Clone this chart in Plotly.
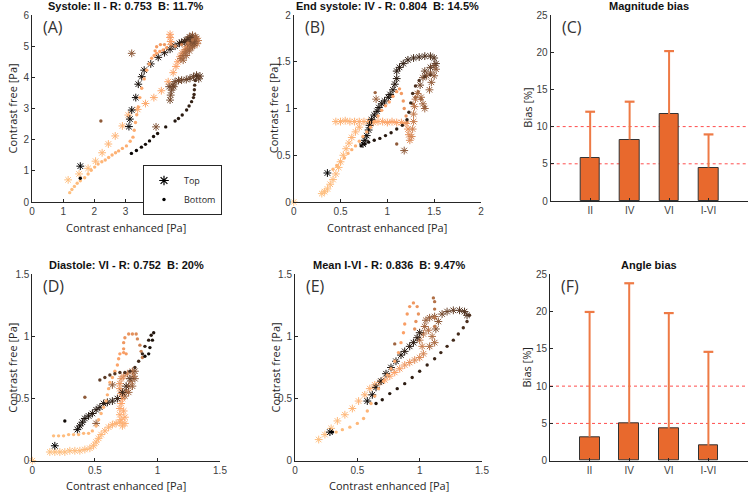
import plotly.graph_objects as go

# ---------------- DATA ----------------
# Panel A (Systole II)
A_top_x = [1.16,1.51,1.80,2.04,2.25,2.45,2.67,2.90,3.09,3.39,3.64,3.91,4.15,4.37,4.53,4.62,4.68,4.75,4.82,4.90,4.96,5.05,5.12,
           4.43,4.43,4.45,4.47,
           5.20,5.28,5.33,5.30,5.20,5.10,5.00,4.92,4.85,4.78,4.85,4.95,5.05,5.15,5.22,5.25,5.15,5.05,4.95,5.00,5.10,5.20,
           3.20,3.98,
           4.43,4.45,4.48,4.52,4.59,4.70,4.80,4.95,5.07,5.18,5.28,5.39,5.35,4.40,4.55,
           5.10,5.00,4.90,4.80,
           4.73,4.59,4.43,4.25,4.05,3.81,3.60,3.52,3.41,3.33,3.20,3.14,3.11,1.55]
A_top_y = [0.71,0.90,1.08,1.31,1.58,1.86,2.12,2.44,2.79,2.97,3.16,3.35,3.57,3.86,4.15,4.35,4.50,4.66,4.78,4.88,4.98,5.05,5.12,
           5.38,5.28,5.15,5.05,
           5.20,5.25,5.18,5.08,5.02,4.95,4.90,4.82,4.70,4.60,4.55,4.70,4.85,5.00,5.15,5.30,5.35,5.30,5.20,5.10,5.15,5.10,
           4.77,2.41,
           3.27,3.43,3.59,3.75,3.86,3.90,3.91,3.93,3.97,4.02,4.07,4.04,3.95,3.70,3.70,
           5.28,5.22,5.15,5.12,
           5.09,5.00,4.90,4.79,4.64,4.43,4.23,4.02,3.78,3.35,2.95,2.66,2.42,1.15]
A_top_t = [0.04,0.05,0.06,0.07,0.08,0.09,0.10,0.10,0.12,0.13,0.14,0.15,0.16,0.17,0.18,0.19,0.20,0.22,0.24,0.26,0.28,0.30,0.32,
           0.20,0.21,0.22,0.23,
           0.34,0.36,0.38,0.40,0.42,0.44,0.45,0.46,0.47,0.48,0.49,0.50,0.50,0.52,0.53,0.54,0.55,0.56,0.57,0.58,0.59,0.60,
           0.55,0.60,
           0.62,0.62,0.63,0.63,0.64,0.65,0.66,0.66,0.67,0.68,0.69,0.70,0.70,0.64,0.65,
           0.70,0.74,0.78,0.82,
           0.85,0.86,0.87,0.88,0.89,0.90,0.91,0.92,0.93,0.94,0.95,0.96,0.97,1.00]

A_bot_x = [1.21,1.28,1.36,1.45,1.55,1.69,1.80,1.90,2.01,2.12,2.24,2.35,2.46,2.57,2.68,2.78,2.90,3.03,3.15,3.24,3.28,3.32,3.36,3.41,3.46,3.52,3.60,3.68,3.76,3.84,3.92,4.00,4.10,4.21,4.32,
           3.95,4.00,4.12,4.25,
           4.60,4.80,5.00,5.15,5.25,
           2.21,
           5.28,5.24,5.22,5.21,5.20,5.18,5.12,5.04,4.96,4.82,4.70,4.59,4.29,4.03,3.90,3.77,3.64,3.51,3.35,3.19,1.55]
A_bot_y = [0.30,0.40,0.50,0.60,0.68,0.78,0.90,1.02,1.12,1.22,1.29,1.35,1.43,1.51,1.58,1.64,1.72,1.80,1.95,2.08,2.30,2.55,2.80,3.05,3.35,3.65,3.95,4.23,4.43,4.61,4.70,4.77,4.83,4.88,4.95,
           4.85,4.98,5.05,5.05,
           5.00,5.05,5.10,5.20,5.28,
           2.60,
           4.04,3.90,3.75,3.60,3.45,3.35,3.22,3.08,2.95,2.79,2.68,2.60,2.41,2.20,2.10,1.96,1.85,1.76,1.65,1.56,0.76]
A_bot_t = [0.04,0.05,0.05,0.06,0.06,0.07,0.07,0.08,0.08,0.09,0.09,0.10,0.10,0.11,0.11,0.12,0.12,0.13,0.13,0.14,0.14,0.15,0.15,0.16,0.16,0.17,0.17,0.17,0.18,0.18,0.18,0.19,0.19,0.20,0.21,
           0.22,0.22,0.23,0.24,
           0.30,0.35,0.40,0.45,0.50,
           0.55,
           0.74,0.76,0.78,0.80,0.81,0.82,0.84,0.85,0.86,0.87,0.88,0.89,0.90,0.91,0.92,0.93,0.94,0.95,0.97,0.98,1.00]

# Panel B (End systole IV)
B_top_x = [0.00,0.30,0.33,0.36,0.39,0.42,0.45,0.48,0.50,0.53,0.56,0.59,0.62,0.66,0.70,
           0.45,0.50,0.55,0.60,0.65,0.70,0.75,0.80,0.85,0.90,0.95,1.00,1.05,1.10,1.15,1.20,
           1.22,1.23,1.24,1.26,1.27,1.28,1.28,1.29,1.30,1.32,1.36,1.38,1.40,
           1.45,1.47,1.50,1.52,1.50,1.46,1.42,1.38,1.35,
           1.40,1.46,1.52,1.50,1.46,1.40,1.34,1.28,1.22,1.17,1.13,
           0.88,1.18,
           1.10,1.10,1.08,1.06,1.03,1.01,0.97,0.94,0.91,0.89,0.86,0.83,0.81,0.80,0.78,0.76,0.74,0.36]
B_top_y = [0.00,0.09,0.11,0.14,0.19,0.24,0.30,0.37,0.43,0.50,0.57,0.63,0.69,0.75,0.80,
           0.86,0.86,0.87,0.86,0.86,0.86,0.86,0.86,0.85,0.86,0.86,0.85,0.86,0.85,0.85,0.84,
           0.78,0.72,0.66,0.70,0.78,0.86,0.94,1.02,1.10,1.16,1.12,1.05,1.00,
           1.20,1.28,1.35,1.42,1.46,1.38,1.35,1.33,1.25,
           1.40,1.44,1.48,1.54,1.56,1.56,1.55,1.54,1.52,1.48,1.44,
           1.10,0.55,
           1.40,1.32,1.26,1.20,1.15,1.12,1.08,1.05,1.01,0.97,0.93,0.88,0.82,0.77,0.71,0.66,0.62,0.31]
B_top_t = [0.02,0.04,0.05,0.05,0.06,0.06,0.07,0.07,0.08,0.08,0.09,0.09,0.10,0.10,0.11,
           0.10,0.11,0.11,0.12,0.12,0.13,0.13,0.14,0.15,0.16,0.17,0.18,0.19,0.20,0.22,0.24,
           0.26,0.28,0.30,0.32,0.34,0.36,0.38,0.40,0.42,0.44,0.46,0.48,0.50,
           0.52,0.53,0.54,0.55,0.56,0.57,0.58,0.60,0.62,
           0.66,0.68,0.70,0.72,0.74,0.76,0.78,0.80,0.82,0.84,0.86,
           0.50,0.55,
           0.87,0.88,0.89,0.90,0.91,0.91,0.92,0.92,0.93,0.93,0.94,0.94,0.95,0.95,0.96,0.96,0.97,1.00]

B_bot_x = [0.42,0.46,0.50,0.54,0.58,0.62,0.66,0.70,0.74,0.78,0.82,0.86,0.90,0.94,0.98,1.02,1.06,1.10,1.13,1.15,1.17,1.18,1.20,1.21,
           1.27,1.30,1.33,1.36,1.40,
           0.87,1.10,
           1.46,1.40,1.34,1.30,1.27,1.25,1.23,1.21,1.16,1.10,1.04,0.98,0.92,0.86,0.80,0.76,0.72]
B_bot_y = [0.35,0.39,0.43,0.47,0.52,0.56,0.60,0.65,0.70,0.75,0.80,0.86,0.92,0.98,1.03,1.07,1.13,1.18,1.21,1.16,1.08,1.00,0.92,0.85,
           1.05,1.12,1.18,1.10,1.02,
           1.17,0.62,
           1.36,1.34,1.30,1.24,1.16,1.06,0.96,0.88,0.82,0.78,0.74,0.71,0.68,0.66,0.64,0.62,0.60]
B_bot_t = [0.08,0.09,0.09,0.10,0.10,0.11,0.12,0.13,0.14,0.15,0.15,0.16,0.17,0.18,0.19,0.19,0.20,0.21,0.22,0.23,0.24,0.25,0.26,0.27,
           0.45,0.47,0.49,0.50,0.52,
           0.50,0.55,
           0.70,0.72,0.74,0.76,0.78,0.80,0.82,0.84,0.85,0.86,0.87,0.88,0.89,0.90,0.92,0.94,0.95]

# Panel D (Diastole VI)
D_top_x = [0.00,0.14,0.18,0.22,0.26,0.30,0.34,0.38,0.42,0.46,0.49,0.51,0.53,0.55,0.58,0.61,0.64,0.67,0.70,
           0.72,0.74,0.71,0.74,0.70,0.73,0.70,
           0.71,0.72,0.71,0.70,0.70,0.71,0.73,
           0.76,0.80,0.81,0.79,0.77,0.75,0.74,0.77,0.80,0.82,0.82,
           0.64,0.51,
           0.78,0.75,0.72,0.68,0.64,0.60,0.57,0.54,0.51,0.48,0.45,0.42,0.40,0.38,0.36,0.18]
D_top_y = [0.00,0.07,0.07,0.07,0.07,0.08,0.08,0.08,0.09,0.10,0.12,0.15,0.18,0.21,0.24,0.27,0.29,0.30,0.31,
           0.28,0.30,0.33,0.35,0.37,0.40,0.42,
           0.46,0.50,0.54,0.58,0.62,0.66,0.68,
           0.70,0.72,0.68,0.64,0.60,0.56,0.52,0.55,0.60,0.66,0.72,
           0.61,0.30,
           0.66,0.60,0.55,0.50,0.48,0.47,0.46,0.43,0.41,0.38,0.36,0.34,0.31,0.28,0.25,0.12]
D_top_t = [0.02,0.04,0.04,0.05,0.05,0.05,0.06,0.06,0.07,0.07,0.08,0.08,0.09,0.09,0.10,0.10,0.11,0.11,0.12,
           0.12,0.13,0.13,0.14,0.14,0.15,0.16,
           0.18,0.20,0.22,0.24,0.26,0.28,0.30,
           0.35,0.38,0.40,0.42,0.44,0.46,0.48,0.50,0.52,0.54,0.56,
           0.55,0.55,
           0.70,0.75,0.80,0.83,0.85,0.86,0.87,0.88,0.89,0.90,0.91,0.92,0.93,0.94,0.95,1.00]

D_bot_x = [0.17,0.21,0.25,0.29,0.33,0.37,0.41,0.45,0.48,0.51,0.53,0.55,0.57,0.59,0.60,0.61,0.62,0.64,
           0.66,0.68,0.69,0.70,0.73,0.75,0.73,0.73,0.74,0.77,0.80,0.83,0.84,0.86,0.87,0.88,
           0.26,0.42,
           0.54,0.58,0.62,0.66,0.70,0.74,0.78,0.82,0.85,0.88,0.90,0.93,0.95,0.97,0.96,0.94,0.93,0.90]
D_bot_y = [0.20,0.20,0.20,0.21,0.21,0.21,0.22,0.22,0.24,0.28,0.33,0.38,0.43,0.48,0.53,0.58,0.63,0.67,
           0.72,0.77,0.82,0.86,0.87,0.86,0.90,0.95,0.99,1.02,1.02,1.02,0.98,0.93,0.88,0.83,
           0.32,0.51,
           0.65,0.67,0.69,0.70,0.71,0.71,0.72,0.75,0.80,0.86,0.92,0.97,1.01,1.03,0.97,0.91,0.86,0.84]
D_bot_t = [0.05,0.05,0.06,0.06,0.07,0.07,0.08,0.08,0.09,0.09,0.10,0.10,0.11,0.11,0.12,0.12,0.13,0.14,
           0.16,0.18,0.19,0.20,0.21,0.22,0.23,0.24,0.25,0.26,0.28,0.30,0.32,0.34,0.36,0.38,
           0.95,0.55,
           0.70,0.71,0.72,0.73,0.74,0.75,0.76,0.78,0.80,0.82,0.84,0.86,0.88,0.90,0.91,0.92,0.93,0.94]

# Panel E (Mean I-VI)
E_top_x = [0.19,0.24,0.29,0.34,0.40,0.46,0.51,0.56,0.60,0.64,
           0.68,0.72,0.76,0.80,0.84,0.88,0.92,0.96,1.00,1.03,
           1.02,1.00,1.03,1.07,1.10,1.12,1.08,1.04,1.05,1.08,1.12,1.15,1.13,
           1.18,1.22,1.27,1.32,1.36,1.38,
           1.00,0.98,0.95,0.92,0.88,0.85,0.81,0.77,0.73,0.69,0.65,0.62,0.58,0.28]
E_top_y = [0.17,0.21,0.26,0.32,0.37,0.42,0.48,0.53,0.58,0.61,
           0.63,0.65,0.68,0.71,0.74,0.77,0.79,0.81,0.83,0.86,
           0.92,0.97,1.02,1.05,1.00,0.95,0.92,1.08,1.13,1.15,1.16,1.12,1.06,
           1.18,1.20,1.21,1.21,1.20,1.17,
           1.03,0.99,0.95,0.92,0.88,0.85,0.80,0.75,0.70,0.64,0.59,0.53,0.48,0.23]
E_top_t = [0.04,0.05,0.06,0.07,0.08,0.09,0.10,0.11,0.12,0.13,
           0.15,0.17,0.18,0.20,0.22,0.24,0.26,0.28,0.30,0.32,
           0.36,0.38,0.40,0.42,0.44,0.45,0.46,0.48,0.50,0.52,0.54,0.56,0.58,
           0.62,0.65,0.68,0.72,0.74,0.76,
           0.84,0.85,0.86,0.87,0.88,0.89,0.90,0.91,0.92,0.93,0.94,0.95,0.96,1.00]

E_bot_x = [0.33,0.38,0.44,0.50,0.55,0.58,0.61,0.64,0.67,0.71,0.74,
           0.77,0.80,0.83,0.85,0.87,0.88,0.90,0.92,0.95,0.98,0.99,0.97,0.96,
           1.12,1.12,1.12,1.12,1.11,
           0.80,
           1.40,1.38,1.35,1.31,1.27,1.22,1.17,1.12,1.06,1.00,0.94,0.88,0.82,0.76,0.70,0.65,0.30]
E_bot_y = [0.23,0.25,0.27,0.30,0.34,0.40,0.46,0.52,0.58,0.64,0.69,
           0.74,0.80,0.87,0.95,1.03,1.10,1.18,1.24,1.27,1.24,1.18,1.12,1.06,
           1.08,1.15,1.22,1.28,1.31,
           0.94,
           1.17,1.12,1.07,1.02,0.97,0.92,0.87,0.82,0.77,0.72,0.67,0.62,0.58,0.54,0.49,0.46,0.23]
E_bot_t = [0.05,0.06,0.07,0.08,0.09,0.10,0.11,0.12,0.13,0.14,0.15,
           0.16,0.17,0.18,0.19,0.20,0.21,0.22,0.23,0.24,0.25,0.26,0.27,0.28,
           0.40,0.41,0.42,0.43,0.44,
           0.50,
           0.75,0.76,0.77,0.78,0.79,0.80,0.81,0.82,0.83,0.84,0.85,0.86,0.87,0.88,0.89,0.90,1.00]

# Bar panels
bar_categories = ["II", "IV", "VI", "I-VI"]
magnitude_bias = [5.8, 8.25, 11.7, 4.5]
magnitude_upper = [12.0, 13.35, 20.15, 8.95]
angle_bias = [3.2, 5.0, 4.3, 2.0]
angle_upper = [19.95, 23.8, 19.8, 14.6]
threshold_lines = [5, 10]

panel_titles = ["Systole: II - R: 0.753  B: 11.7%",
                "End systole: IV - R: 0.804  B: 14.5%",
                "Magnitude bias",
                "Diastole: VI - R: 0.752  B: 20%",
                "Mean I-VI - R: 0.836  B: 9.47%",
                "Angle bias"]
panel_letters = ["(A)", "(B)", "(C)", "(D)", "(E)", "(F)"]

# ---------------- STYLE ----------------
W, H = 750, 493
COPPER_R = [[0, "rgb(255,200,135)"], [0.2, "rgb(252,160,102)"], [1, "rgb(0,0,0)"]]
BAR_COL = "#E8692D"
ERR_COL = "#EE7A45"
AX_COL = "#262626"
TICK_FONT = dict(family="Liberation Sans, Arial", size=10, color="#404040")
LAB_FONT = dict(family="Open Sans, Liberation Sans", size=11, color="#262626")

# panel pixel boxes: (left, right, top, bottom)
boxes = [(32, 219, 15, 202), (293.7, 481, 15, 202), (550.7, 748, 15, 201),
         (32.3, 220, 274.3, 460.7), (295, 482, 274.3, 460.7), (550, 748, 274.3, 460.7)]

fig = go.Figure()

def add_scatter(ax, xs, ys, ts, star):
    if star:
        marker = dict(symbol="asterisk-open", size=6.5, color=ts, colorscale=COPPER_R, cmin=0, cmax=1,
                      line=dict(width=1.0, color=ts, colorscale=COPPER_R, cmin=0, cmax=1))
    else:
        marker = dict(symbol="circle", size=3.4, color=ts, colorscale=COPPER_R, cmin=0, cmax=1,
                      line=dict(width=0))
    fig.add_trace(go.Scatter(x=xs, y=ys, mode="markers", marker=marker, showlegend=False,
                             xaxis="x" + ax, yaxis="y" + ax, cliponaxis=False, hoverinfo="x+y"))

for ax, (tx, ty, tt, bx, by, bt) in zip(["", "2", "4", "5"], [
        (A_top_x, A_top_y, A_top_t, A_bot_x, A_bot_y, A_bot_t),
        (B_top_x, B_top_y, B_top_t, B_bot_x, B_bot_y, B_bot_t),
        (D_top_x, D_top_y, D_top_t, D_bot_x, D_bot_y, D_bot_t),
        (E_top_x, E_top_y, E_top_t, E_bot_x, E_bot_y, E_bot_t)]):
    add_scatter(ax, tx, ty, tt, True)
    add_scatter(ax, bx, by, bt, False)

# legend entries
fig.add_trace(go.Scatter(x=[None], y=[None], mode="markers", name="Top",
                         marker=dict(symbol="asterisk-open", size=8, color="black",
                                     line=dict(width=1.2, color="black"))))
fig.add_trace(go.Scatter(x=[None], y=[None], mode="markers", name="Bottom",
                         marker=dict(symbol="circle", size=3.4, color="black")))

# bars
xpos = list(range(1, len(bar_categories) + 1))
for ax, vals, ups in [("3", magnitude_bias, magnitude_upper), ("6", angle_bias, angle_upper)]:
    fig.add_trace(go.Bar(x=xpos, y=vals, width=0.5, marker=dict(color=BAR_COL, line=dict(color="#333333", width=1)),
                         showlegend=False, xaxis="x" + ax, yaxis="y" + ax))
    ex, ey = [], []
    for xp, v, u in zip(xpos, vals, ups):
        ex += [xp, xp, None]
        ey += [v, u, None]
    fig.add_trace(go.Scatter(x=ex, y=ey, mode="lines", line=dict(color=ERR_COL, width=2),
                             showlegend=False, xaxis="x" + ax, yaxis="y" + ax, hoverinfo="skip"))
    fig.add_trace(go.Scatter(x=xpos, y=ups, mode="markers", showlegend=False, xaxis="x" + ax, yaxis="y" + ax,
                             marker=dict(symbol="line-ew-open", size=7, color=ERR_COL,
                                         line=dict(width=2.2, color=ERR_COL)), cliponaxis=False))
    for th in threshold_lines:
        fig.add_shape(type="line", xref="x" + ax + " domain", yref="y" + ax, x0=0, x1=1, y0=th, y1=th,
                      line=dict(color="#FF4D4D", width=1, dash="dot"), layer="below")

ranges = [([0, 6], [0, 6], 1, 1), ([0, 2], [0, 2], 0.5, 0.5), ([0, 5], [0, 25], None, 5),
          ([0, 1.5], [0, 1.5], 0.5, 0.5), ([0, 1.5], [0, 1.5], 0.5, 0.5), ([0, 5], [0, 25], None, 5)]

layout = dict(template="none", width=W, height=H, margin=dict(l=0, r=0, t=0, b=0, pad=0),
              paper_bgcolor="white", plot_bgcolor="white", showlegend=True, bargap=0)
annotations = []
for i, ((l, r, t, b), (xr, yr, xd, yd)) in enumerate(zip(boxes, ranges)):
    sfx = "" if i == 0 else str(i + 1)
    common = dict(showline=True, linecolor=AX_COL, linewidth=1, ticks="inside", ticklen=3, tickcolor=AX_COL,
                  showgrid=False, zeroline=False, tickfont=TICK_FONT, fixedrange=True, automargin=False)
    xa = dict(domain=[l / W, r / W], range=xr, anchor="y" + sfx, **common)
    ya = dict(domain=[(H - b) / H, (H - t) / H], range=yr, anchor="x" + sfx, dtick=yd, tick0=0, **common)
    if xd is None:
        xa.update(tickmode="array", tickvals=xpos, ticktext=bar_categories)
    else:
        xa.update(dtick=xd, tick0=0)
    layout["xaxis" + sfx] = xa
    layout["yaxis" + sfx] = ya
    cx = (l + r) / 2 / W
    annotations.append(dict(text="<b>" + panel_titles[i] + "</b>", xref="paper", yref="paper", x=cx,
                            y=(H - (t - 9)) / H, xanchor="center", yanchor="middle", showarrow=False,
                            font=dict(family="Liberation Sans, Arial", size=11, color="#111111")))
    annotations.append(dict(text=panel_letters[i], xref="paper", yref="paper", x=(l + 9) / W,
                            y=(H - (t + 12)) / H, xanchor="left", yanchor="middle", showarrow=False,
                            font=dict(family="Open Sans", size=16, color="#333333")))
    if xd is not None:
        annotations.append(dict(text="Contrast enhanced [Pa]", xref="paper", yref="paper", x=cx,
                                y=(H - (b + 25)) / H, xanchor="center", yanchor="middle", showarrow=False,
                                font=LAB_FONT))
        ylab, yoff = "Contrast free [Pa]", 20
    else:
        ylab, yoff = "Bias [%]", 24
    annotations.append(dict(text=ylab, xref="paper", yref="paper", x=(l - yoff) / W,
                            y=(H - (t + b) / 2) / H, xanchor="center", yanchor="middle", showarrow=False,
                            textangle=-90, font=LAB_FONT))
layout["annotations"] = annotations
layout["legend"] = dict(x=143 / W, y=(H - 165) / H, xanchor="left", yanchor="top", bgcolor="white",
                        bordercolor="#262626", borderwidth=1, font=dict(family="Open Sans", size=9, color="#262626"),
                        itemwidth=30, tracegroupgap=0)
fig.update_layout(**layout)
fig.write_html("out.html", config={"displayModeBar": False},
               post_script="document.body.style.margin='0px';document.body.style.padding='0px';")
